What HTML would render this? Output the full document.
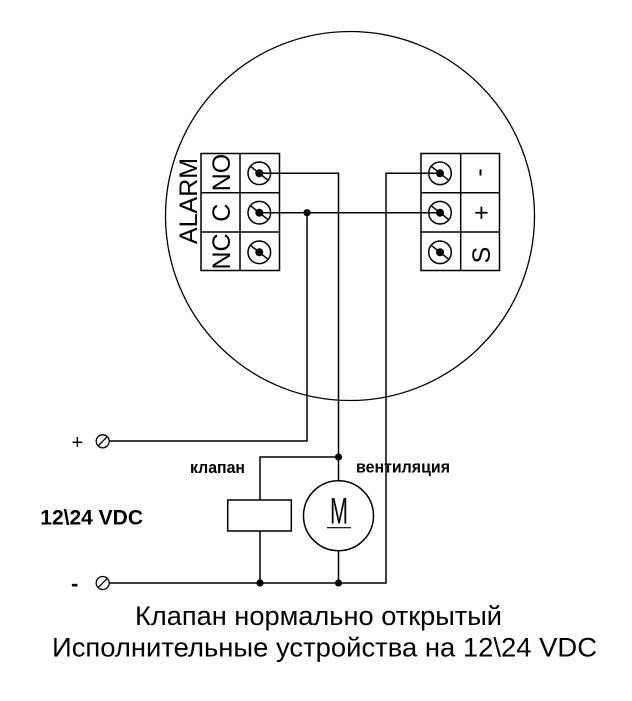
<!DOCTYPE html>
<html><head><meta charset="utf-8"><style>
html,body{margin:0;padding:0;background:#fff;}
svg{display:block;}
text{font-family:"Liberation Sans",Arial,sans-serif;fill:#000;}
</style></head><body>
<svg width="632" height="701" viewBox="0 0 632 701" xmlns="http://www.w3.org/2000/svg">
<rect x="0" y="0" width="632" height="701" fill="#fff"/>
<!-- big circle -->
<circle cx="350" cy="216" r="184.5" fill="none" stroke="#000" stroke-width="1.3"/>

<!-- left terminal block -->
<g fill="#fff" stroke="#000" stroke-width="1.5">
<rect x="201" y="153.5" width="78.5" height="117"/>
<line x1="240" y1="153.5" x2="240" y2="270.5"/>
<line x1="201" y1="192.7" x2="279.5" y2="192.7"/>
<line x1="201" y1="232" x2="279.5" y2="232"/>
</g>
<!-- right terminal block -->
<g fill="#fff" stroke="#000" stroke-width="1.5">
<rect x="421" y="153.5" width="78.5" height="117"/>
<line x1="460.7" y1="153.5" x2="460.7" y2="270.5"/>
<line x1="421" y1="192.7" x2="499.5" y2="192.7"/>
<line x1="421" y1="232" x2="499.5" y2="232"/>
</g>

<!-- wires -->
<g fill="none" stroke="#000" stroke-width="1.5">
<polyline points="259.3,173.3 338.5,173.3 338.5,457"/>
<line x1="259.3" y1="212.7" x2="440" y2="212.7"/>
<polyline points="307,212.7 307,441 109.5,441"/>
<polyline points="440,173.3 386,173.3 386,583 109.5,583"/>
<polyline points="338.5,457 260,457 260,500"/>
<line x1="338.5" y1="457" x2="338.5" y2="480.7"/>
<rect x="227.7" y="500" width="63.6" height="31"/>
<line x1="260" y1="531" x2="260" y2="583"/>
<circle cx="338.5" cy="515.7" r="35"/>
<line x1="338.5" y1="550.7" x2="338.5" y2="583"/>
</g>

<!-- screws -->
<g stroke="#000" stroke-width="1.5" fill="none">
<circle cx="259.3" cy="173.3" r="11.3"/>
<circle cx="259.3" cy="212.7" r="11.3"/>
<circle cx="259.3" cy="252.3" r="11.3"/>
<circle cx="440" cy="173.3" r="11.3"/>
<circle cx="440" cy="212.7" r="11.3"/>
<circle cx="440" cy="252.3" r="11.3"/>
<line x1="250.5" y1="166.3" x2="268.1" y2="180.3"/>
<line x1="250.5" y1="205.7" x2="268.1" y2="219.7"/>
<line x1="250.5" y1="245.3" x2="268.1" y2="259.3"/>
<line x1="431.2" y1="166.3" x2="448.8" y2="180.3"/>
<line x1="431.2" y1="205.7" x2="448.8" y2="219.7"/>
<line x1="431.2" y1="245.3" x2="448.8" y2="259.3"/>
</g>
<g fill="#000">
<circle cx="259.3" cy="173.3" r="4"/>
<circle cx="259.3" cy="212.7" r="4"/>
<circle cx="259.3" cy="252.3" r="4"/>
<circle cx="440" cy="173.3" r="4"/>
<circle cx="440" cy="212.7" r="4"/>
<circle cx="440" cy="252.3" r="4"/>
<!-- junctions -->
<circle cx="307" cy="212.7" r="3.6"/>
<circle cx="338.5" cy="457" r="3.6"/>
<circle cx="260" cy="583" r="3.6"/>
<circle cx="338.5" cy="583" r="3.6"/>
</g>

<!-- supply terminals -->
<g stroke="#000" stroke-width="1.3" fill="#fff">
<circle cx="102.7" cy="441.3" r="6.5"/>
<circle cx="102.7" cy="583" r="6.5"/>
<line x1="98" y1="446" x2="107.4" y2="436.6"/>
<line x1="98" y1="587.7" x2="107.4" y2="578.3"/>
</g>

<!-- rotated labels -->
<text transform="translate(197,201) rotate(-90)" font-size="25" text-anchor="middle">ALARM</text>
<text transform="translate(230,172.5) rotate(-90)" font-size="25" text-anchor="middle">NO</text>
<text transform="translate(230,212.7) rotate(-90)" font-size="25" text-anchor="middle">C</text>
<text transform="translate(230,251.5) rotate(-90)" font-size="25" text-anchor="middle">NC</text>
<text transform="translate(487,172.5) rotate(-90)" font-size="25" text-anchor="middle">-</text>
<text transform="translate(489.5,212.7) rotate(-90)" font-size="25" text-anchor="middle">+</text>
<text transform="translate(490,255) rotate(-90)" font-size="25" text-anchor="middle">S</text>

<!-- supply labels -->
<text x="71.5" y="449" font-size="20">+</text>
<text x="71" y="591" font-size="22" font-weight="bold">-</text>
<text x="143" y="524.3" font-size="21" font-weight="bold" text-anchor="end">12\24 VDC</text>
<text x="190" y="473" font-size="17" font-weight="bold" textLength="55" lengthAdjust="spacingAndGlyphs">клапан</text>
<text x="356" y="472.7" font-size="17" font-weight="bold" textLength="94" lengthAdjust="spacingAndGlyphs">вентиляция</text>

<!-- motor M -->
<text x="330" y="523.3" font-size="37" textLength="18" lengthAdjust="spacingAndGlyphs">M</text>
<line x1="327" y1="527.7" x2="351" y2="527.7" stroke="#000" stroke-width="1.2"/>

<!-- captions -->
<text x="135" y="625" font-size="27" textLength="367" lengthAdjust="spacingAndGlyphs">Клапан нормально открытый</text>
<text x="52" y="656.7" font-size="27" textLength="545" lengthAdjust="spacingAndGlyphs">Исполнительные устройства на 12\24 VDC</text>
</svg>
</body></html>
